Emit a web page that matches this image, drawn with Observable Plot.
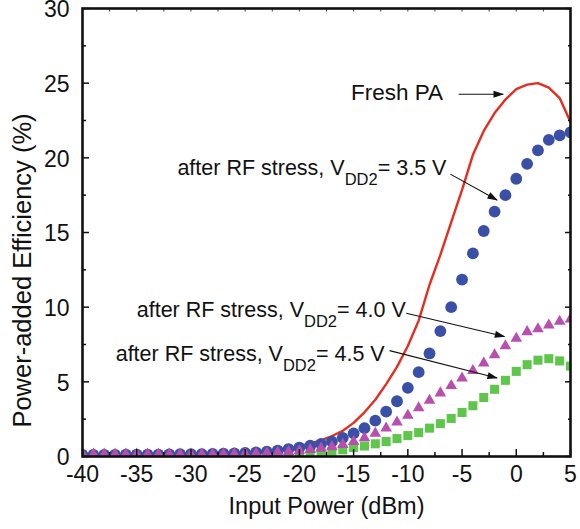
<!DOCTYPE html>
<html>
<head>
<meta charset="utf-8">
<script src="https://cdn.jsdelivr.net/npm/d3@7"></script>
<script src="https://cdn.jsdelivr.net/npm/@observablehq/plot@0.6"></script>
<style>
  html, body { margin: 0; padding: 0; background: #fff; }
</style>
</head>
<body>
<div id="chart"></div>
<script>
// ---- data ----
const inputPower = [-40,-39,-38,-37,-36,-35,-34,-33,-32,-31,-30,-29,-28,-27,-26,-25,-24,-23,-22,-21,-20,-19,-18,-17,-16,-15,-14,-13,-12,-11,-10,-9,-8,-7,-6,-5,-4,-3,-2,-1,0,1,2,3,4,5];

const freshPA = [0.02,0.02,0.03,0.03,0.03,0.04,0.04,0.05,0.05,0.06,0.07,0.08,0.09,0.10,0.12,0.16,0.22,0.31,0.42,0.56,0.70,0.87,1.08,1.37,1.72,2.25,2.96,3.8,4.85,6.0,7.4,9.1,11.5,13.5,15.7,17.85,20.2,21.8,23.0,23.9,24.6,24.9,25.0,24.7,24.0,22.4];

const stress35 = [0.1,0.1,0.1,0.1,0.12,0.12,0.12,0.13,0.14,0.15,0.15,0.16,0.17,0.19,0.21,0.24,0.28,0.33,0.4,0.5,0.6,0.72,0.85,1.0,1.25,1.55,1.9,2.4,3.0,3.7,4.6,5.65,6.9,8.4,10.0,11.85,13.6,15.1,16.4,17.5,18.6,19.6,20.5,21.2,21.5,21.7];

const stress40 = [0.15,0.15,0.15,0.15,0.15,0.15,0.15,0.15,0.15,0.15,0.15,0.16,0.16,0.17,0.18,0.19,0.21,0.24,0.28,0.33,0.38,0.45,0.55,0.65,0.8,1.0,1.25,1.55,1.9,2.3,2.75,3.25,3.75,4.25,4.75,5.25,5.75,6.25,6.8,7.4,7.9,8.35,8.55,8.8,9.05,9.2];

const stress45 = [0.1,0.1,0.1,0.1,0.1,0.1,0.1,0.1,0.1,0.1,0.1,0.1,0.1,0.1,0.1,0.1,0.12,0.13,0.15,0.17,0.19,0.22,0.3,0.35,0.45,0.6,0.7,0.85,1.0,1.2,1.4,1.6,1.9,2.2,2.55,2.95,3.4,3.95,4.5,5.1,5.7,6.15,6.45,6.55,6.4,6.05];

const xMajorTicks = [-40,-35,-30,-25,-20,-15,-10,-5,0,5];
const xMinorTicks = [-37.5,-32.5,-27.5,-22.5,-17.5,-12.5,-7.5,-2.5,2.5];
const yMajorTicks = [0,5,10,15,20,25,30];
const yMinorTicks = [2.5,7.5,12.5,17.5,22.5,27.5];

const xLabel = "Input Power (dBm)";
const yLabel = "Power-added Efficiency (%)";

// annotations: text labels and arrows
const labelTexts = ["after RF stress, V_DD2= 3.5 V", "after RF stress, V_DD2= 4.0 V", "after RF stress, V_DD2= 4.5 V"];
const labelX = [-31.25, -35.0, -36.94];
const labelY = [19.30, 9.78, 6.84];
const freshText = ["Fresh PA"];
const freshX = [-15.24];
const freshY = [24.34];

const arrowX1 = [-5.31, -6.08, -10.14, -11.68];
const arrowY1 = [24.26, 18.91, 9.59, 7.09];
const arrowX2 = [-1.21, -1.77, -1.09, -1.77];
const arrowY2 = [24.26, 17.17, 8.03, 5.26];

// ---- tables built from the arrays ----
const rows = (vals) => inputPower.map((x, i) => ({x, y: vals[i]}));
const freshRows = rows(freshPA);
const rows35 = rows(stress35);
const rows40 = rows(stress40);
const rows45 = rows(stress45);
const labels = labelTexts.map((t, i) => ({t, x: labelX[i], y: labelY[i]}));
const fresh = freshText.map((t, i) => ({t, x: freshX[i], y: freshY[i]}));
const arrows = arrowX1.map((x1, i) => ({x1, y1: arrowY1[i], x2: arrowX2[i], y2: arrowY2[i]}));

const fmt = d => String(d);
const none = () => "";

const plot = Plot.plot({
  width: 580,
  height: 529,
  marginLeft: 82,
  marginRight: 10,
  marginTop: 8,
  marginBottom: 73,
  style: {fontFamily: "'Liberation Sans', Arial, sans-serif", fontSize: "23px", color: "#111", background: "#fff"},
  x: {domain: [-40, 5]},
  y: {domain: [0, 30]},
  marks: [
    Plot.line(freshRows, {x: "x", y: "y", stroke: "#e62d1f", strokeWidth: 2.4, clip: true}),
    Plot.dot(rows45, {x: "x", y: "y", symbol: "square", r: 5.1, fill: "#5ec64b", stroke: "none", clip: true}),
    Plot.dot(rows35, {x: "x", y: "y", symbol: "circle", r: 5.9, fill: "#3a4fa6", stroke: "none", clip: true}),
    Plot.dot(rows40, {x: "x", y: "y", symbol: "triangle", r: 4.3, fill: "#b84fae", stroke: "none", clip: true}),
    Plot.link(arrows, {x1: "x1", y1: "y1", x2: "x2", y2: "y2", stroke: "#111", strokeWidth: 1.1}),
    Plot.text(labels, {x: "x", y: "y", text: "t", textAnchor: "start", fontSize: 21.5, fill: "#111"}),
    Plot.text(fresh, {x: "x", y: "y", text: "t", textAnchor: "start", fontSize: 22.5, fill: "#111"}),
    // tick labels
    Plot.axisX({anchor: "bottom", ticks: xMajorTicks, tickSize: 0, tickPadding: 9, tickFormat: fmt, label: null}),
    Plot.axisY({anchor: "left", ticks: yMajorTicks, tickSize: 0, tickPadding: 13, tickFormat: fmt, label: null, dy: 1.5}),
    // inward ticks
    Plot.axisX({anchor: "bottom", ticks: xMajorTicks, tickSize: -7, tickFormat: none, label: null, strokeWidth: 1.5}),
    Plot.axisX({anchor: "bottom", ticks: xMinorTicks, tickSize: -4, tickFormat: none, label: null, strokeWidth: 1.5}),
    Plot.axisX({anchor: "top", ticks: xMajorTicks.concat(xMinorTicks), tickSize: -2.5, tickFormat: none, label: null, strokeWidth: 0.8}),
    Plot.axisY({anchor: "left", ticks: yMajorTicks, tickSize: -7, tickFormat: none, label: null, strokeWidth: 1.5}),
    Plot.axisY({anchor: "left", ticks: yMinorTicks, tickSize: -4, tickFormat: none, label: null, strokeWidth: 1.5}),
    Plot.axisY({anchor: "right", ticks: yMajorTicks, tickSize: -6, tickFormat: none, label: null, strokeWidth: 1.5}),
    Plot.axisY({anchor: "right", ticks: yMinorTicks, tickSize: -3, tickFormat: none, label: null, strokeWidth: 1.5}),
    Plot.frame({stroke: "#111", strokeWidth: 2.6}),
    // axis titles
    Plot.text([xLabel], {frameAnchor: "bottom", dy: 57, fontSize: 23.5, fill: "#111", textAnchor: "middle"}),
    Plot.text([yLabel], {frameAnchor: "left", dx: -60, dy: 38, rotate: -90, fontSize: 25.5, fill: "#111", textAnchor: "middle"})
  ]
});

document.getElementById("chart").appendChild(plot);

// filled arrowheads
const svg = d3.select(plot);
const defs = svg.append("defs");
defs.append("marker")
  .attr("id", "ahead")
  .attr("viewBox", "0 0 12 8")
  .attr("refX", 11)
  .attr("refY", 4)
  .attr("markerWidth", 12)
  .attr("markerHeight", 7)
  .attr("markerUnits", "userSpaceOnUse")
  .attr("orient", "auto")
  .append("path")
  .attr("d", "M0,0L12,4L0,8Z")
  .attr("fill", "#111");
svg.selectAll("g[aria-label='link'] path").attr("marker-end", "url(#ahead)");

// subscripts
svg.selectAll("text").each(function() {
  const s = this.textContent;
  if (s.includes("_DD2")) {
    const parts = s.split("_DD2");
    const t = d3.select(this);
    t.text(null);
    t.append("tspan").text(parts[0]);
    t.append("tspan").attr("dy", 10).attr("font-size", "16.5px").text("DD2");
    t.append("tspan").attr("dy", -10).text(parts[1]);
  }
});
</script>
</body>
</html>
